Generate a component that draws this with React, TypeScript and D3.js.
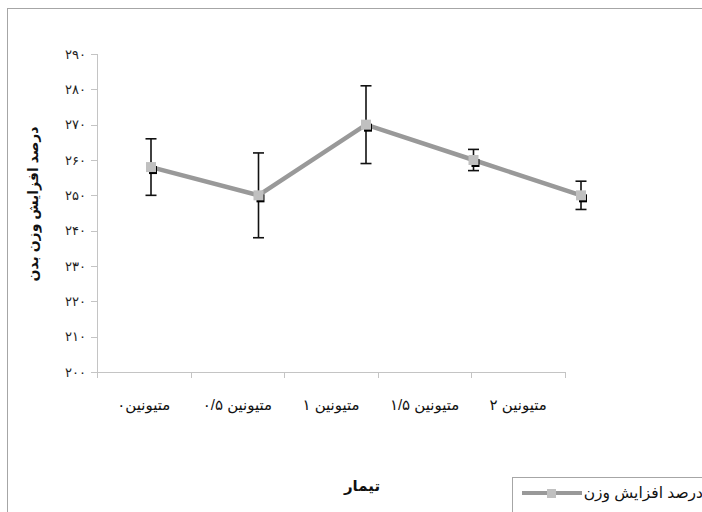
import React from 'react';
import * as d3 from 'd3';

const categories = ['متیونین۰', 'متیونین ۰/۵', 'متیونین ۱', 'متیونین ۱/۵', 'متیونین ۲'];
const weightGain = [258, 250, 270, 260, 250];
const weightErr = [8, 12, 11, 3, 4];
const seriesName = 'درصد افزایش وزن';
const yTitle = 'درصد افزایش وزن بدن';
const xTitle = 'تیمار';

const W = 702;
const H = 512;

const toFa = (s: string) => s.replace(/\d/g, (d) => '۰۱۲۳۴۵۶۷۸۹'[+d]);

const App: React.FC = () => {
  const y = d3.scaleLinear().domain([200, 290]).range([372, 54]);
  const xAxis = d3.scaleBand<string>().domain(categories).range([97, 565]);
  // the series sits a little off the category bands in the original
  const xPts = d3.scalePoint<string>().domain(categories).range([151, 581]);

  const line = d3
    .line<number>()
    .x((_, i) => xPts(categories[i]) as number)
    .y((d) => y(d));

  const font = 'Arial, "Liberation Sans", "DejaVu Sans", sans-serif';

  return (
    <svg
      width={W}
      height={H}
      style={{ position: 'absolute', left: 0, top: 0, background: '#fff' }}
      fontFamily={font}
    >
      <rect x={7.5} y={8.5} width={720} height={540} fill="#fff" stroke="#a6a6a6" />

      {/* y axis */}
      <line x1={97.5} x2={97.5} y1={y(290)} y2={y(200)} stroke="#c4c4c4" />
      {y.ticks(10).map((t) => (
        <g key={t}>
          <line x1={91} x2={97.5} y1={Math.round(y(t)) + 0.5} y2={Math.round(y(t)) + 0.5} stroke="#c4c4c4" />
          <text x={86} y={y(t)} dy="0.35em" textAnchor="end" fontSize={13} fill="#222">
            {toFa(String(t))}
          </text>
        </g>
      ))}

      {/* x axis */}
      <line x1={97} x2={565} y1={372.5} y2={372.5} stroke="#c4c4c4" />
      {[...categories.map((c) => xAxis(c) as number), 565].map((xv, i) => (
        <line key={i} x1={Math.round(xv) + 0.5} x2={Math.round(xv) + 0.5} y1={372} y2={378} stroke="#c4c4c4" />
      ))}
      {categories.map((c) => (
        <text
          key={c}
          x={(xAxis(c) as number) + xAxis.bandwidth() / 2}
          y={405}
          dy="0.35em"
          textAnchor="middle"
          direction="rtl"
          fontSize={15}
          fill="#111"
        >
          {c}
        </text>
      ))}

      {/* titles */}
      <text
        transform={`translate(33,204) rotate(-90)`}
        textAnchor="middle"
        dy="0.35em"
        fontSize={14}
        fontWeight="bold"
        fill="#111"
      >
        {yTitle}
      </text>
      <text x={362} y={486} textAnchor="middle" dy="0.35em" fontSize={15} fontWeight="bold" fill="#111">
        {xTitle}
      </text>

      {/* error bars */}
      {weightGain.map((v, i) => {
        const cx = xPts(categories[i]) as number;
        const top = y(v + weightErr[i]);
        const bot = y(v - weightErr[i]);
        return (
          <g key={i} stroke="#111" strokeWidth={1.6}>
            <line x1={cx} x2={cx} y1={top} y2={bot} />
            <line x1={cx - 5.5} x2={cx + 5.5} y1={top} y2={top} />
            <line x1={cx - 5.5} x2={cx + 5.5} y1={bot} y2={bot} />
          </g>
        );
      })}

      {/* series */}
      <path d={line(weightGain) || ''} fill="none" stroke="#999" strokeWidth={4.5} />
      {weightGain.map((v, i) => {
        const cx = xPts(categories[i]) as number;
        const cy = y(v);
        return (
          <g key={i}>
            <rect x={cx - 2} y={cy - 1} width={8} height={8} fill="#000" />
            <rect x={cx - 5} y={cy - 5} width={10} height={10} fill="#c0c0c0" />
          </g>
        );
      })}

      {/* legend */}
      <rect x={512.5} y={477.5} width={220} height={60} fill="#fff" stroke="#a6a6a6" />
      <line x1={522} x2={582} y1={493} y2={493} stroke="#999" strokeWidth={4} />
      <rect x={547} y={489} width={9} height={9} fill="#c0c0c0" />
      <text x={703} y={493} dy="0.35em" textAnchor="end" fontSize={15.5} fill="#111">
        {seriesName}
      </text>
    </svg>
  );
};

export default App;
